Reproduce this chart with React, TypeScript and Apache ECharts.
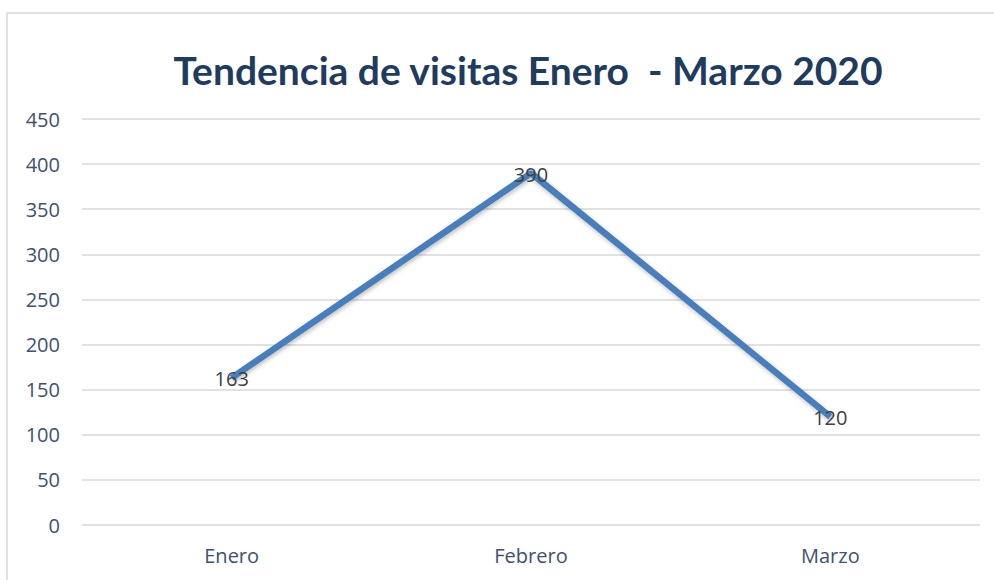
import React, { useEffect, useRef } from "react";
import * as echarts from "echarts";

const titleText = "Tendencia de visitas Enero  - Marzo 2020";
const categories = ["Enero", "Febrero", "Marzo"];
const visitas = [163, 390, 120];
const yMin = 0;
const yMax = 450;
const yInterval = 50;

export default function App() {
  const ref = useRef<HTMLDivElement>(null);
  useEffect(() => {
    if (!ref.current) return;
    const chart = echarts.init(ref.current, null, { renderer: "svg" });
    const titleFont = "Lato, 'Noto Sans', sans-serif";
    const font = "'Open Sans', 'Noto Sans', sans-serif";
    chart.setOption({
      animation: false,
      backgroundColor: "#ffffff",
      title: {
        text: titleText,
        left: 523,
        top: 45,
        textAlign: "center",
        textStyle: {
          fontFamily: titleFont,
          fontWeight: "bold",
          fontSize: 39,
          color: "#1F3B5E",
        },
      },
      graphic: [
        {
          type: "rect",
          shape: { x: 7, y: 13, width: 1100, height: 700 },
          style: { fill: "none", stroke: "#d9d9d9", lineWidth: 1.5 },
          silent: true,
        },
      ],
      grid: { left: 82, right: 14, top: 119, bottom: 55, containLabel: false },
      xAxis: {
        type: "category",
        data: categories,
        boundaryGap: true,
        axisLine: { show: false },
        axisTick: { show: false },
        axisLabel: { color: "#3E5170", fontSize: 20, fontFamily: font, margin: 20 },
      },
      yAxis: {
        type: "value",
        min: yMin,
        max: yMax,
        interval: yInterval,
        axisLine: { show: false },
        axisTick: { show: false },
        axisLabel: { color: "#3E5170", fontSize: 20, fontFamily: font, margin: 22 },
        splitLine: { lineStyle: { color: "#d9d9d9", width: 1.5 } },
      },
      series: [
        {
          type: "line",
          data: visitas,
          symbol: "circle",
          symbolSize: 1,
          itemStyle: { color: "rgba(0,0,0,0)" },
          lineStyle: {
            color: "#4A7EBB",
            width: 6.5,
            shadowColor: "rgba(0,0,0,0.25)",
            shadowBlur: 4,
            shadowOffsetX: 1,
            shadowOffsetY: 2,
          },
          label: {
            show: true,
            position: "inside",
            color: "#404040",
            fontSize: 20,
            fontFamily: font,
            offset: [0, 1],
          },
        },
      ],
    });
    return () => chart.dispose();
  }, []);
  return (
    <div
      ref={ref}
      style={{ position: "absolute", left: 0, top: 0, width: 994, height: 580 }}
    />
  );
}
